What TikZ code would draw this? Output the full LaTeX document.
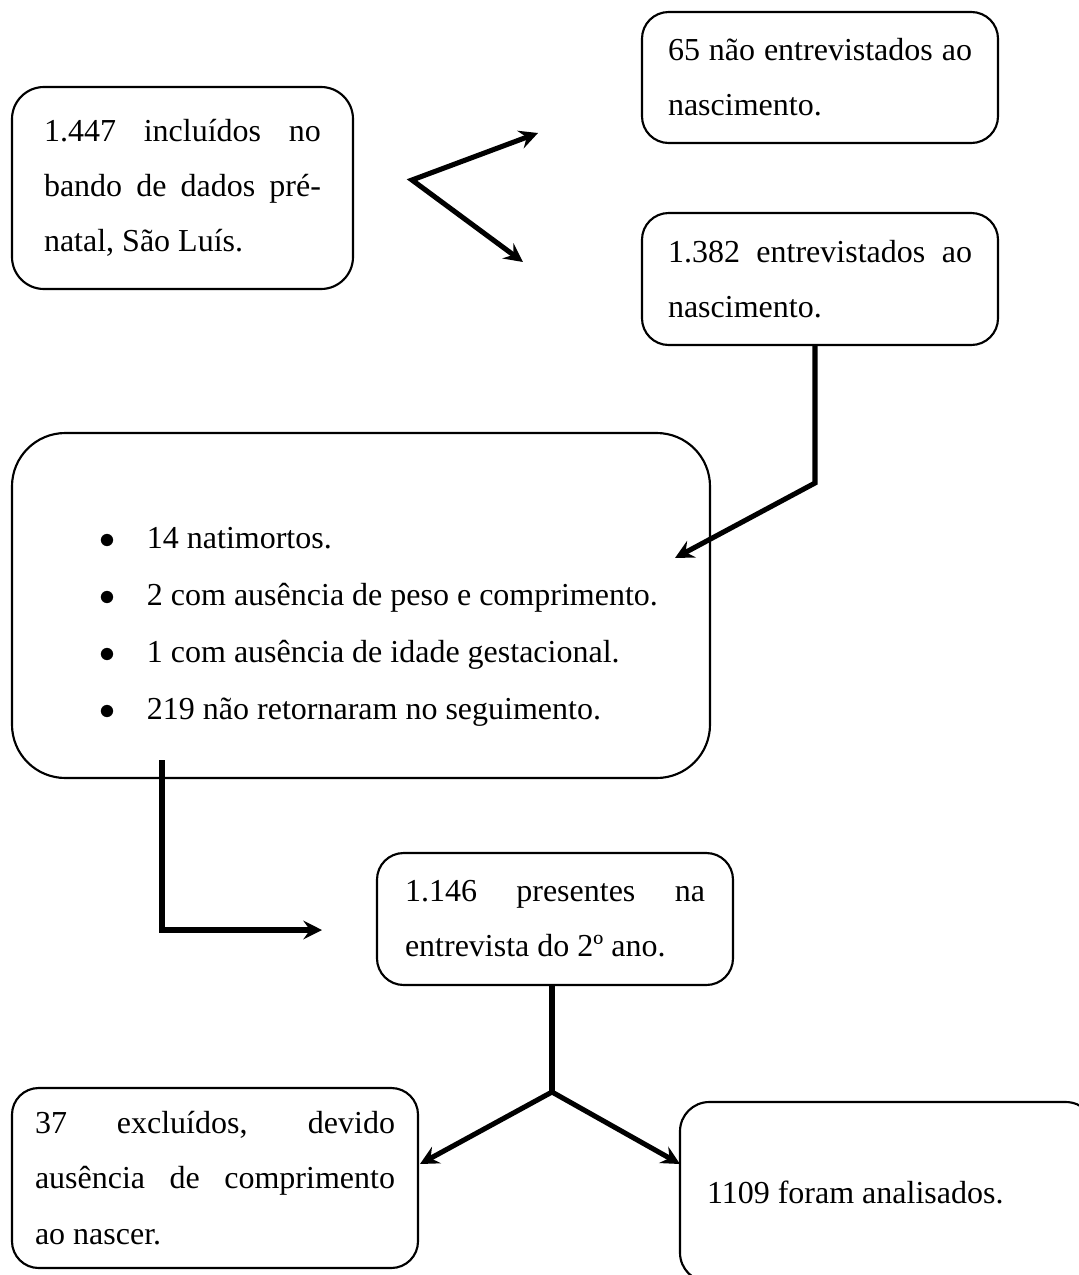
\documentclass[tikz,border=0pt]{standalone}
\usepackage{fontspec}
\setmainfont{Liberation Serif}
\usetikzlibrary{arrows.meta}
\newcommand{\pxu}{0.375pt}
\newcommand{\dotitem}[1]{\makebox[195.75pt][l]{\makebox[17.6pt][l]{$\bullet$}#1}}

\begin{document}
\begin{tikzpicture}[x=\pxu, y=-\pxu,
		box/.style={draw, line width=0.8pt, rounded corners=10pt, inner sep=0pt, font=\fontsize{12pt}{20.7pt}\selectfont},
		arr/.style={line width=1.9pt, -{Stealth[length=7pt, width=7pt, inset=2.5pt]}},
		arrboth/.style={line width=1.9pt, {Stealth[length=7pt, width=7pt, inset=2.5pt]}-{Stealth[length=7pt, width=7pt, inset=2.5pt]}}]
			\useasboundingbox (0,0) rectangle (1079,1275);
			\clip (0,0) rectangle (1079,1275);
			\node[box, rounded corners=12pt, minimum width={341*\pxu}, minimum height={202*\pxu}, text width={277*\pxu}, align=justify] (incl) at (182.5,188) {1.447 incluídos no\linebreak bando de dados pré-\linebreak natal, São Luís.};
			\node[box, minimum width={356*\pxu}, minimum height={131*\pxu}, text width={304*\pxu}, align=justify] (naoent) at (820,77.5) {65 não entrevistados ao\linebreak nascimento.};
			\node[box, minimum width={356*\pxu}, minimum height={132*\pxu}, text width={304*\pxu}, align=justify] (entrev) at (820,279) {1.382 entrevistados ao\linebreak nascimento.};
			\node[box, rounded corners=20pt, minimum width={698*\pxu}, minimum height={345*\pxu}, text width={522*\pxu}, align=flush left, font=\fontsize{12pt}{21.3pt}\selectfont] (perdas) at (361,605.5) {\rule{0pt}{24pt}\dotitem{14 natimortos.}\\ \dotitem{2 com ausência de peso e comprimento.}\\ \dotitem{1 com ausência de idade gestacional.}\\ \dotitem{219 não retornaram no seguimento.}};
			\node[box, minimum width={356*\pxu}, minimum height={132*\pxu}, text width={300*\pxu}, align=justify] (presentes) at (555,919) {1.146 presentes na\linebreak entrevista do 2º ano.};
			\node[box, minimum width={406*\pxu}, minimum height={180*\pxu}, text width={360*\pxu}, align=justify] (excl) at (215,1178) {37 excluídos, devido\linebreak ausência de comprimento\linebreak ao nascer.};
			\node[box, rounded corners=11pt, minimum width={415*\pxu}, minimum height={180*\pxu}, text width={361*\pxu}, align=flush left] (anal) at (887.5,1192) {1109 foram analisados.};
			\coordinate (forka) at (412,180);
			\coordinate (tipb) at (538,133);
			\coordinate (tipc) at (523,262);
			\draw[arrboth] (tipb) -- (forka) -- (tipc);
			\coordinate (bendc) at (815,483);
			\coordinate (tipd) at (675,558);
			\draw[arr] (entrev.south -| bendc) -- (bendc) -- (tipd);
			\coordinate (startd) at (162,760);
			\coordinate (bendd) at (162,930);
			\coordinate (tipe) at (322,930);
			\draw[arr] (startd) -- (bendd) -- (tipe);
			\coordinate (forke) at (552,1092);
			\coordinate (tipf) at (420,1164);
			\coordinate (tipg) at (680,1164);
			\draw[line width=1.9pt] (presentes.south -| forke) -- (forke);
			\draw[arrboth] (tipf) -- (forke) -- (tipg);
		\end{tikzpicture}
\end{document}
